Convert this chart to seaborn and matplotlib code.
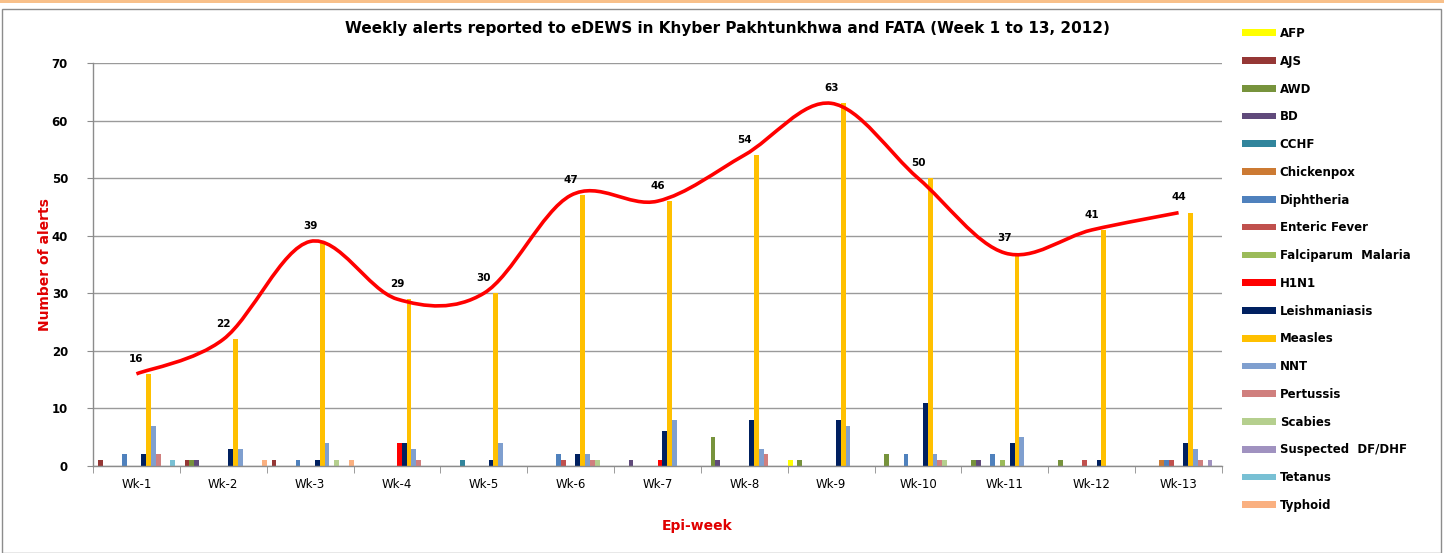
import numpy as np
import pandas as pd
import matplotlib
matplotlib.use("Agg")
import matplotlib.pyplot as plt
import seaborn as sns
from matplotlib.path import Path
from matplotlib.patches import PathPatch, Patch, Rectangle

weeks = ["Wk-1", "Wk-2", "Wk-3", "Wk-4", "Wk-5", "Wk-6", "Wk-7",
         "Wk-8", "Wk-9", "Wk-10", "Wk-11", "Wk-12", "Wk-13"]

diseases = ["AFP", "AJS", "AWD", "BD", "CCHF", "Chickenpox", "Diphtheria",
            "Enteric Fever", "Falciparum  Malaria", "H1N1", "Leishmaniasis",
            "Measles", "NNT", "Pertussis", "Scabies", "Suspected  DF/DHF",
            "Tetanus", "Typhoid"]

afp          = [0, 0, 0, 0, 0, 0, 0, 0, 1, 0, 0, 0, 0]
ajs          = [1, 1, 1, 0, 0, 0, 0, 0, 0, 0, 0, 0, 0]
awd          = [0, 1, 0, 0, 0, 0, 0, 5, 1, 2, 1, 1, 0]
bd           = [0, 1, 0, 0, 0, 0, 1, 1, 0, 0, 1, 0, 0]
cchf         = [0, 0, 0, 0, 1, 0, 0, 0, 0, 0, 0, 0, 0]
chickenpox   = [0, 0, 0, 0, 0, 0, 0, 0, 0, 0, 0, 0, 1]
diphtheria   = [2, 0, 1, 0, 0, 2, 0, 0, 0, 2, 2, 0, 1]
enteric      = [0, 0, 0, 0, 0, 1, 0, 0, 0, 0, 0, 1, 1]
falciparum   = [0, 0, 0, 0, 0, 0, 0, 0, 0, 0, 1, 0, 0]
h1n1         = [0, 0, 0, 4, 0, 0, 1, 0, 0, 0, 0, 0, 0]
leish        = [2, 3, 1, 4, 1, 2, 6, 8, 8, 11, 4, 1, 4]
measles      = [16, 22, 39, 29, 30, 47, 46, 54, 63, 50, 37, 41, 44]
nnt          = [7, 3, 4, 3, 4, 2, 8, 3, 7, 2, 5, 0, 3]
pertussis    = [2, 0, 0, 1, 0, 1, 0, 2, 0, 1, 0, 0, 1]
scabies      = [0, 0, 1, 0, 0, 1, 0, 0, 0, 1, 0, 0, 0]
df_dhf       = [0, 0, 0, 0, 0, 0, 0, 0, 0, 0, 0, 0, 1]
tetanus      = [1, 0, 0, 0, 0, 0, 0, 0, 0, 0, 0, 0, 0]
typhoid      = [0, 1, 1, 0, 0, 0, 0, 0, 0, 0, 0, 0, 0]

series = [afp, ajs, awd, bd, cchf, chickenpox, diphtheria, enteric, falciparum,
          h1n1, leish, measles, nnt, pertussis, scabies, df_dhf, tetanus, typhoid]

colors = ["#FFFF00", "#953735", "#77933C", "#604A7B", "#31859C", "#CC7A33",
          "#4F81BD", "#C0504D", "#9BBB59", "#FF0000", "#002060", "#FFC000",
          "#7F9FCF", "#D07F7E", "#B5CF8E", "#A092C0", "#78C0D4", "#FAB080"]

rows = []
for d, vals in zip(diseases, series):
    for w, v in zip(weeks, vals):
        rows.append({"week": w, "disease": d, "alerts": v})
df = pd.DataFrame(rows)

sns.set_style("white")
plt.rcParams["font.family"] = ["DejaVu Sans"]
plt.rcParams["text.color"] = "#000000"
plt.rcParams["xtick.color"] = "#000000"
plt.rcParams["ytick.color"] = "#000000"
plt.rcParams["xtick.labelcolor"] = "#000000"
plt.rcParams["ytick.labelcolor"] = "#000000"

W, H = 1444, 553
fig = plt.figure(figsize=(W / 100, H / 100), dpi=100)
ax = fig.add_axes([93 / W, 1 - 466 / H, (1222 - 93) / W, (466 - 63) / H])

sns.barplot(data=df, x="week", y="alerts", hue="disease", order=weeks,
            hue_order=diseases, palette=colors, width=1.0, gap=0,
            saturation=1, errorbar=None, legend=False, ax=ax, linewidth=0)

# smoothed measles line (Bezier through data points, like Excel smoothing)
pts = np.column_stack([np.arange(len(weeks)), np.array(measles, float)])
verts = [tuple(pts[0])]
codes = [Path.MOVETO]
n = len(pts)
for i in range(n - 1):
    p0 = pts[max(i - 1, 0)]
    p1 = pts[i]
    p2 = pts[i + 1]
    p3 = pts[min(i + 2, n - 1)]
    c1 = p1 + (p2 - p0) / 6.0
    c2 = p2 - (p3 - p1) / 6.0
    verts += [tuple(c1), tuple(c2), tuple(p2)]
    codes += [Path.CURVE4] * 3
ax.add_patch(PathPatch(Path(verts, codes), facecolor="none",
                       edgecolor="#FF0000", lw=2.6, zorder=5))
for i, v in enumerate(measles):
    ax.annotate(str(v), (i, v), xytext=(0, 11), textcoords="offset points",
                ha="center", va="center", fontsize=7.5, fontweight="bold",
                color="#000000", zorder=6)

ax.set_xlim(-0.5, len(weeks) - 0.5)
ax.set_ylim(0, 70)
ax.set_yticks(range(0, 71, 10))
ax.yaxis.grid(True, color="#9A9A9A", lw=1)
ax.set_axisbelow(True)
ax.set_xlabel("")
ax.set_ylabel("")
for s in ["top", "right"]:
    ax.spines[s].set_visible(False)
for s in ["left", "bottom"]:
    ax.spines[s].set_color("#8C8C8C")
    ax.spines[s].set_linewidth(1)
ax.set_xticks(np.arange(-0.5, len(weeks), 1.0), minor=True)
ax.tick_params(axis="x", which="major", length=0, labelsize=8.5, pad=9,
               labelcolor="#000000")
ax.tick_params(axis="x", which="minor", length=5, color="#8C8C8C",
               direction="out", bottom=True)
ax.tick_params(axis="y", length=4, color="#8C8C8C", labelsize=8.5, pad=14,
               left=True, labelcolor="#000000")
for lab in ax.get_yticklabels():
    lab.set_fontweight("bold")

fig.text(727 / W, 1 - 28 / H,
         "Weekly alerts reported to eDEWS in Khyber Pakhtunkhwa and FATA (Week 1 to 13, 2012)",
         ha="center", va="center", fontsize=11, fontweight="bold",
         color="#000000")
fig.text(45 / W, 1 - 265 / H, "Number of alerts", rotation=90, ha="center",
         va="center", fontsize=10, fontweight="bold", color="#E00000")
fig.text(697 / W, 1 - 526 / H, "Epi-week", ha="center", va="center",
         fontsize=10, fontweight="bold", color="#E00000")

handles = [Patch(facecolor=c, edgecolor="none") for c in colors]
leg = fig.legend(handles, diseases, loc="upper left",
                 bbox_to_anchor=(1242 / W, 1 - 27 / H), frameon=False,
                 prop={"weight": "bold", "size": 8.5},
                 handlelength=2.9, handleheight=0.5, handletextpad=0.3,
                 labelspacing=1.25, borderpad=0, borderaxespad=0)
for t in leg.get_texts():
    t.set_color("#000000")

# outer decorations
fig.patches.append(Rectangle((0, 1 - 3 / H), 1, 3 / H, transform=fig.transFigure,
                             facecolor="#F8C08A", edgecolor="none", zorder=0))
fig.patches.append(Rectangle((2 / W, 0.5 / H), (W - 5) / W, (H - 9) / H,
                             transform=fig.transFigure, facecolor="none",
                             edgecolor="#8C8C8C", lw=1, zorder=0))

fig.savefig("out.png", dpi=100)
